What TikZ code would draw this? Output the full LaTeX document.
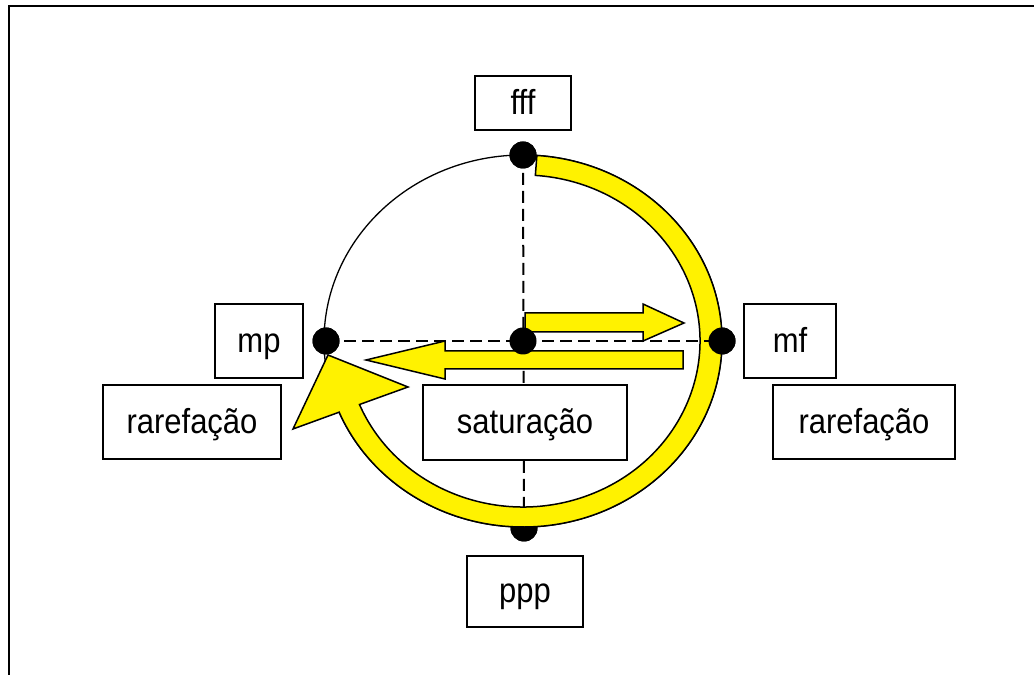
\documentclass[tikz,border=0pt]{standalone}
\usepackage{fontspec}
\setmainfont{Liberation Sans}
\usepackage{graphicx}
\begin{document}
\begin{tikzpicture}[x=1pt,y=1pt,
  lbl/.style={draw=black,line width=1.5pt,fill=white,inner sep=0pt,
    font=\fontsize{31}{36}\selectfont,text height=27pt,text depth=4pt},
  dot/.style={circle,fill=black,inner sep=0pt,minimum size=27pt},
  dashline/.style={line width=2pt,dash pattern=on 12pt off 6pt},
  ybody/.style={fill=yellow,draw=black,line width=1.5pt,line join=miter}]
\useasboundingbox (0,0) rectangle (1034,675);
% frame
\draw[line width=2pt] (8.5,0) -- (8.5,669) -- (1034,669);
\coordinate (C) at (523,334);
% thin circle
\draw[line width=1.3pt] (C) ellipse [x radius=199pt, y radius=186pt];
% dots (positions)
\node[dot] (top) at (523,520) {};
\node[dot] (bot) at (524,147) {};
\node[dot] (lft) at (326,334) {};
\node[dot] (rgt) at (722,334) {};
% vertical dashed line
\draw[dashline] (top.center) -- (bot.center);
\node[dot] at (bot) {};
% big yellow arc arrow
\draw[ybody] ([shift={(C)}]86:199pt and 186pt)
  arc[start angle=86, end angle=-157.5, x radius=199pt, y radius=186pt]
  -- (293,246) -- (328,320) -- (408,288)
  -- ([shift={(C)}]-157.5:177pt and 166pt)
  arc[start angle=-157.5, end angle=86, x radius=177pt, y radius=166pt]
  -- cycle;
% horizontal dashed line
\draw[dashline] (lft.center) -- (rgt.center);
% straight arrows
\draw[ybody] (525,362) -- (643,362) -- (643,371) -- (684,352) -- (643,334)
  -- (643,343) -- (525,343) -- cycle;
\draw[ybody] (683,324) -- (445,324) -- (445,334) -- (366,315) -- (445,296)
  -- (445,306) -- (683,306) -- cycle;
% dots on top
\node[dot] (cen) at (C) {};
\node[dot] at (top) {};
\node[dot] at (lft) {};
\node[dot] at (rgt) {};
% label boxes
\node[lbl,minimum width=96pt,minimum height=54pt] (fff) at (523,572) {\scalebox{1}[1.12]{fff}};
\node[lbl,minimum width=88pt,minimum height=74pt] (mp) at (259,334) {\scalebox{1}[1.12]{mp}};
\node[lbl,minimum width=178pt,minimum height=74pt] (rarL) at (192,253) {\scalebox{1}[1.12]{rarefação}};
\node[lbl,minimum width=92pt,minimum height=74pt] (mf) at (790,334) {\scalebox{1}[1.12]{mf}};
\node[lbl,minimum width=182pt,minimum height=74pt] (rarR) at (864,253) {\scalebox{1}[1.12]{rarefação}};
\node[lbl,minimum width=204pt,minimum height=75pt] (sat) at (525,252.5) {\scalebox{1}[1.12]{saturação}};
\node[lbl,minimum width=116pt,minimum height=71pt] (ppp) at (525,83.5) {\scalebox{1}[1.12]{ppp}};
\end{tikzpicture}
\end{document}
